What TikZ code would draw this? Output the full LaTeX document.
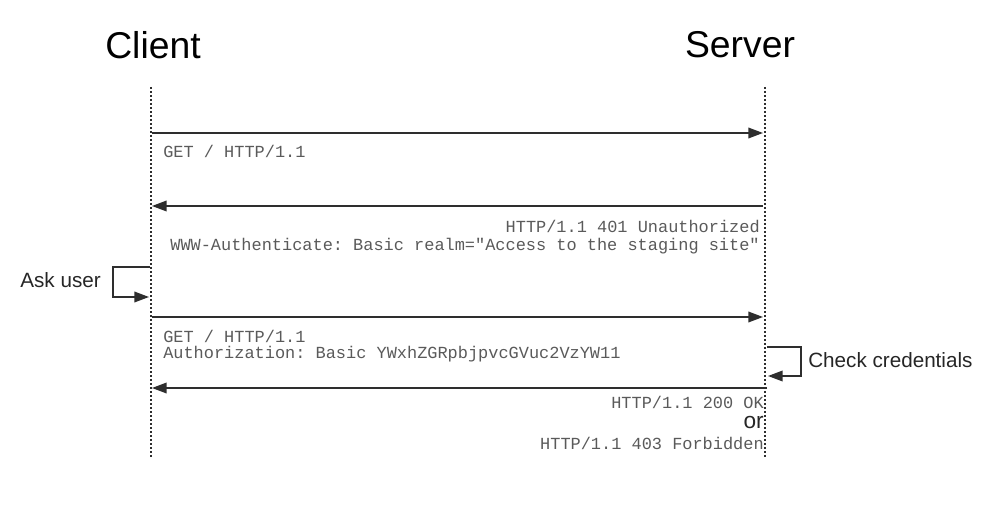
\documentclass[tikz,border=0pt]{standalone}
\usepackage{fontspec}
\setmainfont{Liberation Sans}
\setmonofont{Liberation Mono}
\usetikzlibrary{arrows.meta}
\usetikzlibrary{positioning}
\definecolor{msggray}{HTML}{5A5A5A}
\definecolor{linegray}{HTML}{2E2E2E}
\tikzset{
  lifeline/.style={draw=linegray, line width=1.4pt, dash pattern=on 1.3pt off 1.7pt},
  msg/.style={draw=linegray, line width=1.1pt, -{Triangle[length=11pt,width=8pt]}},
  msgtext/.style={font=\ttfamily\fontsize{12.7}{15}\selectfont, text=msggray, inner sep=0pt},
  party/.style={font=\fontsize{28}{32}\selectfont, inner sep=0pt},
  note/.style={font=\fontsize{15.5}{18}\selectfont, text=black!85, inner sep=0pt}
}
\begin{document}
\begin{tikzpicture}[x=0.75pt, y=-0.75pt]
\useasboundingbox (0,0) rectangle (1004,506);

  % The two parties
  \node[party] (client) at (153,45) {Client};
  \node[party] (server) at (740,45) {Server};

  % Lifelines
  \coordinate (ctop) at (151,87);
  \coordinate (cbot) at (151,458);
  \coordinate (stop) at (765,87);
  \coordinate (sbot) at (765,458);
  \draw[lifeline] (ctop) -- (cbot);
  \draw[lifeline] (stop) -- (sbot);

  % Points on the lifelines
  \coordinate (c1) at (152,133);  \coordinate (s1) at (763,133);
  \coordinate (c2) at (152,206);  \coordinate (s2) at (763,206);
  \coordinate (c3) at (152,317);  \coordinate (s3) at (763,317);
  \coordinate (c4) at (152,388);  \coordinate (s4) at (767,388);
  \coordinate (au1) at (150,267); \coordinate (au2) at (149,297);
  \coordinate (cc1) at (767,347); \coordinate (cc2) at (768,376);

  % First request
  \draw[msg] (c1) -- (s1);
  \node[msgtext, anchor=west] (get1) at (163,151) {GET / HTTP/1.1};

  % Challenge
  \draw[msg] (s2) -- (c2);
  \node[msgtext, anchor=east] (unauth) at (760,226) {HTTP/1.1 401 Unauthorized};
  \node[msgtext, anchor=east] (wwwauth) at (760,246) {WWW-Authenticate: Basic realm="Access to the staging site"};

  % Ask user
  \draw[msg] (au1) -- ++(-37,0) |- (au2);
  \node[note, anchor=east] (askuser) at (101,280) {Ask user};

  % Second request
  \draw[msg] (c3) -- (s3);
  \node[msgtext, anchor=west] (get2) at (163,336) {GET / HTTP/1.1};
  \node[msgtext, anchor=west] (authz) at (163,354) {Authorization: Basic YWxhZGRpbjpvcGVuc2VzYW11};

  % Check credentials
  \draw[msg] (cc1) -- ++(34,0) |- (cc2);
  \node[note, anchor=west] (check) at (808,360) {Check credentials};

  % Answer
  \draw[msg] (s4) -- (c4);
  \node[msgtext, anchor=east] (ok) at (764,402) {HTTP/1.1 200 OK};
  \node[note, anchor=east, font=\fontsize{17}{20}\selectfont] (orword) at (764,423) {or};
  \node[msgtext, anchor=east] (forbid) at (764,443) {HTTP/1.1 403 Forbidden};

\end{tikzpicture}
\end{document}
